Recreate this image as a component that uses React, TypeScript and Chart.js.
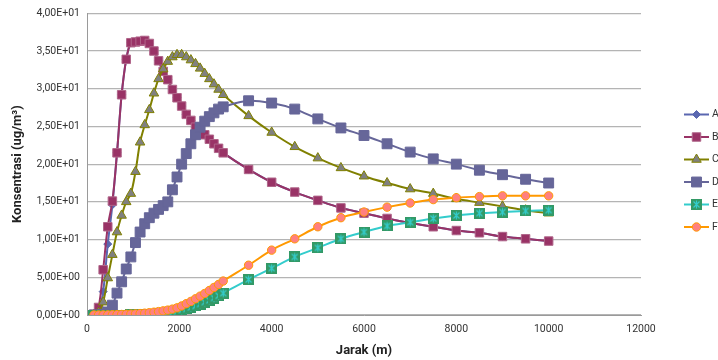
import React, { useEffect, useRef } from 'react';
import { Chart, registerables } from 'chart.js';

Chart.register(...registerables);

// ---------- data ----------
const distances = [150, 250, 350, 450, 550, 650, 750, 850, 950, 1050, 1150, 1250, 1350, 1450, 1550, 1650, 1750, 1850, 1950, 2050, 2150, 2250, 2350, 2450, 2550, 2650, 2750, 2850, 2950, 3500, 4000, 4500, 5000, 5500, 6000, 6500, 7000, 7500, 8000, 8500, 9000, 9500, 10000];

const seriesA = [0.1, 0.5, 3.1, 9.4, 14.6, 21.5, 29.2, 33.9, 36.1, 36.2, 36.3, 36.4, 36.0, 35.0, 33.7, 32.3, 31.2, 29.9, 28.8, 27.7, 26.6, 25.8, 24.9, 24.4, 23.9, 23.3, 22.7, 22.1, 21.5, 19.3, 17.6, 16.3, 15.2, 14.2, 13.5, 12.8, 12.2, 11.7, 11.2, 10.9, 10.4, 10.1, 9.8];
const seriesB = [0.1, 1.0, 6.0, 11.7, 15.1, 21.5, 29.2, 33.9, 36.1, 36.2, 36.3, 36.4, 36.0, 35.0, 33.7, 32.3, 31.2, 29.9, 28.8, 27.7, 26.6, 25.8, 24.9, 24.4, 23.9, 23.3, 22.7, 22.1, 21.5, 19.3, 17.6, 16.3, 15.2, 14.2, 13.5, 12.8, 12.2, 11.7, 11.2, 10.9, 10.4, 10.1, 9.8];
const seriesC = [0.0, 0.3, 1.7, 4.9, 8.0, 11.0, 13.2, 15.0, 16.1, 19.0, 22.9, 25.2, 27.2, 29.4, 31.3, 32.6, 33.6, 34.2, 34.5, 34.5, 34.2, 33.8, 33.3, 32.7, 32.0, 31.3, 30.6, 29.9, 29.2, 26.4, 24.2, 22.3, 20.8, 19.5, 18.4, 17.5, 16.7, 16.1, 15.4, 14.9, 14.4, 13.9, 13.5];
const seriesD = [0.0, 0.0, 0.1, 0.4, 1.3, 2.9, 4.4, 6.1, 7.7, 9.6, 11.0, 12.1, 12.9, 13.5, 14.0, 14.5, 15.0, 16.6, 18.3, 20.0, 21.4, 22.7, 23.9, 24.9, 25.7, 26.3, 26.8, 27.3, 27.6, 28.4, 28.1, 27.3, 26.0, 24.8, 23.8, 22.7, 21.6, 20.7, 20.0, 19.2, 18.6, 18.0, 17.5];
const seriesE = [0, 0, 0, 0, 0, 0, 0, 0, 0.01, 0.02, 0.03, 0.05, 0.08, 0.12, 0.17, 0.23, 0.3, 0.4, 0.5, 0.65, 0.8, 1.0, 1.2, 1.45, 1.7, 1.95, 2.25, 2.55, 2.9, 4.7, 6.2, 7.7, 8.9, 10.1, 11.0, 11.8, 12.3, 12.8, 13.2, 13.5, 13.65, 13.8, 13.9];
const seriesF = [0, 0, 0.01, 0.02, 0.03, 0.05, 0.07, 0.09, 0.12, 0.15, 0.19, 0.24, 0.3, 0.37, 0.45, 0.55, 0.65, 0.78, 0.95, 1.2, 1.5, 1.8, 2.15, 2.5, 2.85, 3.25, 3.65, 4.05, 4.5, 6.6, 8.6, 10.1, 11.7, 12.9, 13.65, 14.3, 14.85, 15.3, 15.55, 15.7, 15.8, 15.8, 15.8];

const seriesNames = ['A', 'B', 'C', 'D', 'E', 'F'];
const xTitle = 'Jarak (m)';
const yTitle = 'Konsentrasi (ug/m\u00B3)';

// ---------- helpers ----------
function sciLabel(v: number): string {
  if (v === 0) return '0,00E+00';
  const e = Math.floor(Math.log10(Math.abs(v)) + 1e-9);
  const m = v / Math.pow(10, e);
  const sign = e >= 0 ? '+' : '-';
  return m.toFixed(2).replace('.', ',') + 'E' + sign + String(Math.abs(e)).padStart(2, '0');
}

function makeEMarker(): HTMLCanvasElement {
  const c = document.createElement('canvas');
  const s = 11;
  c.width = s; c.height = s;
  const g = c.getContext('2d')!;
  g.fillStyle = '#339966';
  g.fillRect(0, 0, s, s);
  g.strokeStyle = '#33cccc';
  g.lineWidth = 1.2;
  g.beginPath();
  g.moveTo(2.5, 2.5); g.lineTo(s - 2.5, s - 2.5);
  g.moveTo(s - 2.5, 2.5); g.lineTo(2.5, s - 2.5);
  g.moveTo(s / 2, 1.5); g.lineTo(s / 2, s - 1.5);
  g.stroke();
  return c;
}

function toPoints(ys: number[]) {
  return distances.map((x, i) => ({ x, y: ys[i] }));
}

function drawMarker(ctx: CanvasRenderingContext2D, ds: any, x: number, y: number) {
  const style = ds.pointStyle;
  const r = ds.pointRadius;
  if (style instanceof HTMLCanvasElement) {
    ctx.drawImage(style, x - style.width / 2, y - style.height / 2);
    return;
  }
  ctx.beginPath();
  if (style === 'rectRot') {
    ctx.moveTo(x, y - r); ctx.lineTo(x + r, y); ctx.lineTo(x, y + r); ctx.lineTo(x - r, y); ctx.closePath();
  } else if (style === 'rect') {
    const s = r * Math.SQRT1_2;
    ctx.rect(x - s, y - s, 2 * s, 2 * s);
  } else if (style === 'triangle') {
    ctx.moveTo(x, y - r);
    ctx.lineTo(x + r * 0.866, y + r * 0.5);
    ctx.lineTo(x - r * 0.866, y + r * 0.5);
    ctx.closePath();
  } else {
    ctx.arc(x, y, r, 0, Math.PI * 2);
  }
  ctx.fillStyle = ds.pointBackgroundColor;
  ctx.fill();
  if (ds.pointBorderWidth > 0) {
    ctx.strokeStyle = ds.pointBorderColor;
    ctx.lineWidth = ds.pointBorderWidth;
    ctx.stroke();
  }
}

const LEG_TOP = 114.5;
const LEG_GAP = 22.5;

const sideLegend = {
  id: 'sideLegend',
  afterDraw(chart: any) {
    const ctx: CanvasRenderingContext2D = chart.ctx;
    ctx.save();
    chart.data.datasets.forEach((ds: any, i: number) => {
      const y = LEG_TOP + i * LEG_GAP;
      ctx.strokeStyle = ds.borderColor;
      ctx.lineWidth = ds.borderWidth;
      ctx.beginPath();
      ctx.moveTo(684, y);
      ctx.lineTo(709, y);
      ctx.stroke();
      drawMarker(ctx, ds, 696.5, y);
      ctx.fillStyle = '#333333';
      ctx.font = '10.5px Roboto';
      ctx.textBaseline = 'middle';
      ctx.textAlign = 'left';
      ctx.fillText(ds.label, 712, y);
    });
    ctx.restore();
  },
};

export default function App() {
  const ref = useRef<HTMLCanvasElement | null>(null);

  useEffect(() => {
    if (!ref.current) return;
    const eMarker = makeEMarker();
    const common = { showLine: true, tension: 0.35, borderWidth: 2, pointBorderWidth: 1 };
    const chart = new Chart(ref.current, {
      type: 'scatter',
      data: {
        datasets: [
          { ...common, label: seriesNames[0], data: toPoints(seriesA), borderColor: '#5a67b0', pointStyle: 'rectRot', pointRadius: 4, pointBackgroundColor: '#5a67b0', pointBorderColor: '#5a67b0', order: 6 },
          { ...common, label: seriesNames[1], data: toPoints(seriesB), borderColor: '#993366', pointStyle: 'rect', pointRadius: 6, pointBackgroundColor: '#993366', pointBorderColor: '#b0668a', order: 5 },
          { ...common, label: seriesNames[2], data: toPoints(seriesC), borderColor: '#808000', pointStyle: 'triangle', pointRadius: 5.5, pointBackgroundColor: '#808080', pointBorderColor: '#808000', order: 4 },
          { ...common, label: seriesNames[3], data: toPoints(seriesD), borderColor: '#666699', pointStyle: 'rect', pointRadius: 7, pointBackgroundColor: '#666699', pointBorderColor: '#666699', order: 3 },
          { ...common, label: seriesNames[4], data: toPoints(seriesE), borderColor: '#33cccc', pointStyle: eMarker, pointRadius: 5, pointBackgroundColor: '#339966', pointBorderColor: '#339966', order: 2 },
          { ...common, label: seriesNames[5], data: toPoints(seriesF), borderColor: '#ff9900', pointStyle: 'circle', pointRadius: 4.2, pointBackgroundColor: '#ff8080', pointBorderColor: '#ff9900', order: 1 },
        ] as any,
      },
      options: {
        animation: false,
        responsive: false,
        devicePixelRatio: 1,
        layout: { padding: { left: 0, right: 77, top: 12, bottom: 0 } },
        plugins: { legend: { display: false }, tooltip: { enabled: false } },
        scales: {
          x: {
            type: 'linear',
            min: 0,
            max: 12000,
            ticks: {
              stepSize: 2000,
              padding: 8,
              color: '#333333',
              font: { family: 'Roboto', size: 10.5 },
              callback: (v: any) => String(v),
              maxRotation: 0,
            },
            grid: { display: false, drawTicks: false },
            border: { display: true, color: '#9a9a9a', width: 1 },
            title: { display: true, text: xTitle, color: '#222222', font: { family: 'Roboto', size: 13, weight: 'bold' }, padding: { top: 0, bottom: 1 } },
            afterFit: (s: any) => { s.height = 45; },
          },
          y: {
            min: 0,
            max: 40,
            ticks: {
              stepSize: 5,
              padding: 7,
              color: '#333333',
              font: { family: 'Roboto', size: 10.5 },
              callback: (v: any) => sciLabel(Number(v)),
            },
            grid: { color: '#b4b4b4', lineWidth: 1.3, drawTicks: false },
            border: { display: true, color: '#9a9a9a', width: 1 },
            title: { display: true, text: yTitle, color: '#222222', font: { family: 'Roboto', size: 13, weight: 'bold' }, padding: { top: 10, bottom: 0 } },
            afterFit: (s: any) => { s.width = 87; },
          },
        },
      } as any,
      plugins: [sideLegend],
    });
    return () => chart.destroy();
  }, []);

  return (
    <div style={{ position: 'absolute', left: 0, top: 0, width: 718, height: 360, overflow: 'hidden', background: '#ffffff' }}>
      <canvas ref={ref} width={718} height={360} style={{ width: 718, height: 360, display: 'block' }} />
    </div>
  );
}
